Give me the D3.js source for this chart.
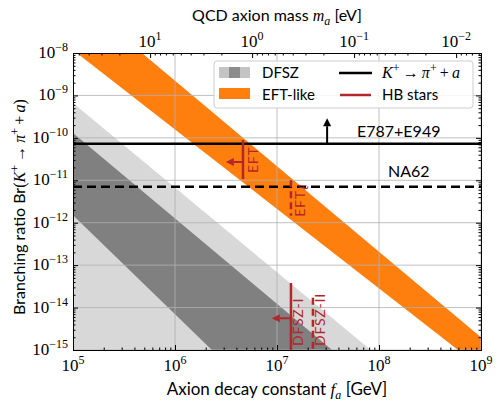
<!DOCTYPE html>
<html>
<head>
<meta charset="utf-8">
<script src="https://cdn.jsdelivr.net/npm/d3@7"></script>
<style>
  body { margin: 0; background: #fff; }
  svg { display: block; }
  .sans { font-family: Lato, "DejaVu Sans", sans-serif; }
  .serif { font-family: "Liberation Serif", "DejaVu Serif", serif; }
  .axis path, .axis line { stroke: #000; }
</style>
</head>
<body>
<svg id="chart" width="499" height="402"></svg>
<script>
// axis ranges
const fRange = [1e5, 1e9];
const brRange = [1e-15, 1e-8];
const xMajor = [1e5, 1e6, 1e7, 1e8, 1e9];
const yMajor = [1e-15, 1e-14, 1e-13, 1e-12, 1e-11, 1e-10, 1e-9, 1e-8];
const xExp = ["5", "6", "7", "8", "9"];
const yExp = ["−15", "−14", "−13", "−12", "−11", "−10", "−9", "−8"];
// QCD axion: m_a [eV] = maConst / f_a [GeV]
const maConst = 5.7e6;
const maMajor = [10, 1, 0.1, 0.01];
const maExp = ["1", "0", "−1", "−2"];

// band edges, two (f_a, Br) points each
const eftLower = [[1.09e5, 1e-8], [5.96e8, 1e-15]];
const eftUpper = [[4.74e5, 1e-8], [1e9, 2.0e-15]];
const dfszOuter = [[1e5, 6.6e-10], [8.3e7, 1e-15]];
const dfszInnerUpper = [[1e5, 1.3e-10], [3.47e7, 1e-15]];
const dfszInnerLower = [[1e5, 1.5e-12], [2.3e6, 1e-15]];

// experimental limits
const e949 = 7.3e-11;
const e949Arrow = [3.1e7, 2.9e-10];
const na62 = 7.0e-12;

// HB stars bounds: f_a, Br from, Br to
const hbEft = [4.64e6, 8.9e-11, 1.07e-11];
const hbEftArrow = [3.15e6, 2.7e-11];
const hbEftL = [1.37e7, 1.0e-11, 1.45e-12];
const hbDfsz1 = [1.37e7, 3.8e-14, 1e-15];
const hbDfsz1Arrow = [8.9e6, 5.6e-15];
const hbDfsz2 = [2.25e7, 1.7e-14, 1e-15];

const orange = "#ff7f0e", lightGray = "#d8d8d8", darkGray = "#808080", red = "#b5262b";

const svg = d3.select("#chart");
const L = 73, R = 481, T = 53, B = 350;

const x = d3.scaleLog().domain(fRange).range([L, R]);
const y = d3.scaleLog().domain(brRange).range([B, T]);
const xTop = d3.scaleLog().domain([maConst / fRange[0], maConst / fRange[1]]).range([L, R]);

svg.append("clipPath").attr("id", "plotclip")
  .append("rect").attr("x", L).attr("y", T).attr("width", R - L).attr("height", B - T);

const plot = svg.append("g").attr("clip-path", "url(#plotclip)");

// extend an edge given by two points to f = 1e4 .. 1e10
function edge(pts) {
  const [a, b] = pts.map(p => [Math.log10(p[0]), Math.log10(p[1])]);
  const k = (b[1] - a[1]) / (b[0] - a[0]);
  return [4, 10].map(lf => [Math.pow(10, lf), Math.pow(10, a[1] + k * (lf - a[0]))]);
}
const line = d3.line().x(d => x(d[0])).y(d => y(d[1]));
const bottomPts = [[1e10, 1e-17], [1e4, 1e-17]];

plot.append("path")
  .attr("d", line(edge(dfszOuter).concat(bottomPts)) + "Z")
  .attr("fill", lightGray);
plot.append("path")
  .attr("d", line(edge(dfszInnerUpper).concat(edge(dfszInnerLower).reverse())) + "Z")
  .attr("fill", darkGray);
plot.append("path")
  .attr("d", line(edge(eftUpper).concat(edge(eftLower).reverse())) + "Z")
  .attr("fill", orange);

// grid
const grid = plot.append("g").attr("stroke", "#b0b0b0").attr("stroke-width", 0.8);
grid.selectAll(".gx").data(xMajor).enter().append("line")
  .attr("x1", d => x(d)).attr("x2", d => x(d)).attr("y1", T).attr("y2", B);
grid.selectAll(".gy").data(yMajor).enter().append("line")
  .attr("x1", L).attr("x2", R).attr("y1", d => y(d)).attr("y2", d => y(d));

// experimental lines
plot.append("line")
  .attr("x1", L).attr("x2", R).attr("y1", y(e949)).attr("y2", y(e949))
  .attr("stroke", "#000").attr("stroke-width", 2.5);
plot.append("line")
  .attr("x1", L).attr("x2", R).attr("y1", y(na62)).attr("y2", y(na62))
  .attr("stroke", "#000").attr("stroke-width", 2.5).attr("stroke-dasharray", "9,5");

// arrow helper
function arrow(g, x1, y1, x2, y2, color) {
  const ang = Math.atan2(y2 - y1, x2 - x1);
  const hl = 8, hw = 4;
  const bx = x2 - hl * Math.cos(ang), by = y2 - hl * Math.sin(ang);
  g.append("line").attr("x1", x1).attr("y1", y1).attr("x2", bx).attr("y2", by)
    .attr("stroke", color).attr("stroke-width", 2);
  const px = -Math.sin(ang) * hw, py = Math.cos(ang) * hw;
  g.append("path")
    .attr("d", `M${x2},${y2}L${bx + px},${by + py}L${bx - px},${by - py}Z`)
    .attr("fill", color);
}
arrow(plot, x(e949Arrow[0]), y(e949), x(e949Arrow[0]), y(e949Arrow[1]), "#000");

svg.append("text").attr("class", "sans").attr("x", 357).attr("y", 137)
  .attr("font-size", 16).text("E787+E949");
svg.append("text").attr("class", "sans").attr("x", 388).attr("y", 177)
  .attr("font-size", 16).text("NA62");

// HB stars
function hbLine(d, dashed) {
  plot.append("line")
    .attr("x1", x(d[0])).attr("x2", x(d[0])).attr("y1", y(d[1])).attr("y2", y(d[2]))
    .attr("stroke", red).attr("stroke-width", 2.5)
    .attr("stroke-dasharray", dashed ? "7,4" : null);
}
hbLine(hbEft, false);
hbLine(hbEftL, true);
hbLine(hbDfsz1, false);
hbLine(hbDfsz2, true);
arrow(plot, x(hbEft[0]), y(hbEftArrow[1]), x(hbEftArrow[0]), y(hbEftArrow[1]), red);
arrow(plot, x(hbDfsz1[0]), y(hbDfsz1Arrow[1]), x(hbDfsz1Arrow[0]), y(hbDfsz1Arrow[1]), red);

function vlabel(px, py, parts) {
  const t = svg.append("text").attr("transform", `translate(${px},${py}) rotate(-90)`)
    .attr("fill", red).attr("font-size", 14).attr("letter-spacing", 0.8);
  parts.forEach(p => {
    const s = t.append("tspan").attr("class", p.serif ? "serif" : "sans").text(p.t);
    if (p.dy) s.attr("dy", p.dy);
    if (p.it) s.attr("font-style", "italic");
  });
}
vlabel(x(hbEft[0]) + 15, y(hbEft[2]) - 6, [{t: "EFT"}]);
vlabel(x(hbEftL[0]) + 14, y(hbEftL[2]) + 1, [{t: "EFT"}, {t: "ℓ", serif: true, it: true, dy: 3}]);
vlabel(x(hbDfsz1[0]) + 12, B - 4, [{t: "DFSZ-I"}]);
vlabel(x(hbDfsz2[0]) + 12, B - 4, [{t: "DFSZ-II"}]);

// axes with inward ticks
function ticksOn(axisFn, scale, vals, size, tr) {
  svg.append("g").attr("class", "axis").attr("transform", tr)
    .call(axisFn(scale).tickValues(vals).tickSize(size).tickSizeOuter(0).tickFormat(""));
}
function minors(lo, hi) {
  const out = [];
  for (let e = Math.floor(Math.log10(lo)); e <= Math.ceil(Math.log10(hi)); e++)
    for (let m = 2; m <= 9; m++) {
      const v = m * Math.pow(10, e);
      if (v > lo && v < hi) out.push(v);
    }
  return out;
}
const xMin = minors(fRange[0], fRange[1]);
const yMin = minors(brRange[0], brRange[1]);
const maMin = minors(maConst / fRange[1], maConst / fRange[0]);

ticksOn(d3.axisBottom, x, xMajor, -5, `translate(0,${B})`);
ticksOn(d3.axisBottom, x, xMin, -2.5, `translate(0,${B})`);
ticksOn(d3.axisLeft, y, yMajor, -5, `translate(${L},0)`);
ticksOn(d3.axisLeft, y, yMin, -2.5, `translate(${L},0)`);
ticksOn(d3.axisRight, y, yMajor, -5, `translate(${R},0)`);
ticksOn(d3.axisRight, y, yMin, -2.5, `translate(${R},0)`);
ticksOn(d3.axisTop, xTop, maMajor, -5, `translate(0,${T})`);
ticksOn(d3.axisTop, xTop, maMin, -2.5, `translate(0,${T})`);

function powLabel(px, py, exp, anchor) {
  const t = svg.append("text").attr("class", "serif").attr("x", px).attr("y", py)
    .attr("text-anchor", anchor).attr("font-size", 17);
  t.append("tspan").text("10");
  t.append("tspan").attr("dy", -7).attr("font-size", 12).text(exp);
}
xMajor.forEach((v, i) => powLabel(x(v), 371, xExp[i], "middle"));
yMajor.forEach((v, i) => powLabel(68, y(v) + 5, yExp[i], "end"));
maMajor.forEach((v, i) => powLabel(xTop(v), 47, maExp[i], "middle"));

// axis titles
const thin = "\u2009";
function mixed(t, parts) {
  parts.forEach(p => {
    const s = t.append("tspan").attr("class", p.m ? "serif" : "sans").text(p.t);
    if (p.m) s.attr("font-style", p.up ? "normal" : "italic");
    if (p.dy) s.attr("dy", p.dy);
    if (p.fs) s.attr("font-size", p.fs);
  });
}
const kpa = [{t: "K", m: 1}, {t: "+", m: 1, up: 1, dy: -6, fs: 12},
  {t: thin + "→" + thin, m: 1, up: 1, dy: 6}, {t: "π", m: 1}, {t: "+", m: 1, up: 1, dy: -6, fs: 12},
  {t: thin + "+" + thin, m: 1, up: 1, dy: 6}, {t: "a", m: 1}];
mixed(svg.append("text").attr("x", 277).attr("y", 395).attr("text-anchor", "middle").attr("font-size", 17),
  [{t: "Axion decay constant "}, {t: "f", m: 1}, {t: "a", m: 1, dy: 4, fs: 12}, {t: " [GeV]", dy: -4}]);
mixed(svg.append("text").attr("x", 277).attr("y", 21).attr("text-anchor", "middle").attr("font-size", 16),
  [{t: "QCD axion mass "}, {t: "m", m: 1}, {t: "a", m: 1, dy: 4, fs: 12}, {t: " [eV]", dy: -4}]);
mixed(svg.append("text").attr("transform", "translate(25,207) rotate(-90)").attr("text-anchor", "middle").attr("font-size", 16),
  [{t: "Branching ratio Br"}, {t: "(", m: 1, up: 1}].concat(kpa, [{t: ")", m: 1, up: 1}]));

// legend
const lg = svg.append("g");
lg.append("rect").attr("x", 214).attr("y", 61).attr("width", 259).attr("height", 47)
  .attr("rx", 3).attr("fill", "#fff").attr("fill-opacity", 0.85).attr("stroke", "#cccccc");
lg.append("rect").attr("x", 219).attr("y", 67).attr("width", 31).attr("height", 11).attr("fill", "#c4c4c4");
lg.append("rect").attr("x", 229).attr("y", 67).attr("width", 11).attr("height", 11).attr("fill", "#8c8c8c");
lg.append("rect").attr("x", 219).attr("y", 88).attr("width", 31).attr("height", 11).attr("fill", orange);
lg.append("line").attr("x1", 339).attr("x2", 372).attr("y1", 73).attr("y2", 73)
  .attr("stroke", "#000").attr("stroke-width", 2.5);
lg.append("line").attr("x1", 340).attr("x2", 371).attr("y1", 95).attr("y2", 95)
  .attr("stroke", red).attr("stroke-width", 2.5);
lg.append("text").attr("class", "sans").attr("x", 262).attr("y", 78).attr("font-size", 15).text("DFSZ");
lg.append("text").attr("class", "sans").attr("x", 262).attr("y", 100).attr("font-size", 15).text("EFT-like");
lg.append("text").attr("class", "sans").attr("x", 382).attr("y", 100).attr("font-size", 15).text("HB stars");
mixed(lg.append("text").attr("x", 382).attr("y", 78).attr("font-size", 16), kpa);
</script>
</body>
</html>
